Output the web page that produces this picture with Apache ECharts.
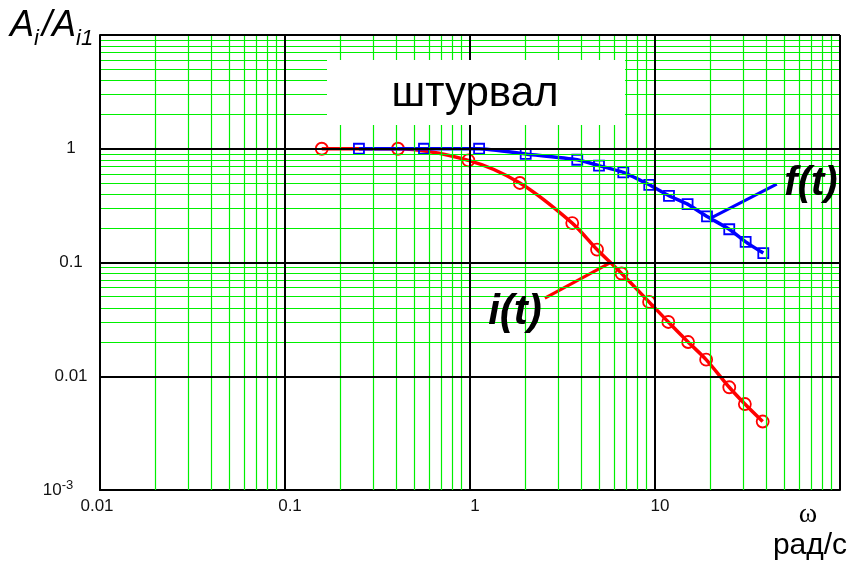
<!DOCTYPE html>
<html>
<head>
<meta charset="utf-8">
<script src="https://cdn.jsdelivr.net/npm/echarts@6/dist/echarts.min.js"></script>
<style>
  html, body { margin: 0; padding: 0; background: #fff; }
  #chart { width: 854px; height: 569px; }
</style>
</head>
<body>
<div id="chart"></div>
<script>
// Amplitude ratio vs. angular frequency (log-log), "штурвал" input
const iOmega = [0.158, 0.408, 0.98, 1.86, 3.57, 4.86, 6.6, 9.29, 11.8, 15.1, 18.9, 25.2, 30.6, 38.2];
const iAmp   = [1, 1, 0.79, 0.5, 0.222, 0.13, 0.08, 0.045, 0.03, 0.02, 0.014, 0.008, 0.0057, 0.004];
const fOmega = [0.251, 0.564, 1.12, 2.0, 3.8, 4.98, 6.74, 9.31, 11.9, 15.0, 19.1, 25.2, 30.9, 38.5];
const fAmp   = [1, 1, 1, 0.9, 0.8, 0.71, 0.62, 0.482, 0.386, 0.326, 0.254, 0.196, 0.152, 0.121];

// leader lines from the curve labels to the curves
const iLeaderX = [2.54, 5.71];
const iLeaderY = [0.0486, 0.0993];
const fLeaderX = [20.0, 45.5];
const fLeaderY = [0.2455, 0.489];

// axis decades and tick labels
const xDecades = [0.01, 0.1, 1, 10, 100];
const yDecades = [0.001, 0.01, 0.1, 1, 10];
const xTickValues = [0.01, 0.1, 1, 10];
const xTickText   = ['{l|0.01}', '0.1', '1', '10'];
const yTickValues = [0.001, 0.01, 0.1, 1];
const yTickText   = ['{b|10}{s|-3}', '0.01', '0.1', '1'];
const minorSteps  = [2, 3, 4, 5, 6, 7, 8, 9];

function pickLabel(v, values, texts) {
  for (let k = 0; k < values.length; k++) {
    if (Math.abs(Math.log10(v) - Math.log10(values[k])) < 1e-6) return texts[k];
  }
  return '';
}

// grid lines: green minor lines per decade, black decade lines on top
const gridLines = [];
const minorStyle = { color: '#00f000', width: 1.2, type: 'solid' };
const majorStyle = { color: '#000', width: 2, type: 'solid' };
xDecades.slice(0, -1).forEach(d => minorSteps.forEach(m => gridLines.push({ xAxis: m * d, lineStyle: minorStyle })));
yDecades.slice(0, -1).forEach(d => minorSteps.forEach(m => gridLines.push({ yAxis: m * d, lineStyle: minorStyle })));
xDecades.forEach(d => gridLines.push({ xAxis: d, lineStyle: majorStyle }));
yDecades.forEach(d => gridLines.push({ yAxis: d, lineStyle: majorStyle }));

const pairs = (xs, ys) => xs.map((x, k) => [x, ys[k]]);

const labelFont = 'Liberation Sans';

const chart = echarts.init(document.getElementById('chart'), null, { renderer: 'canvas' });
chart.setOption({
  animation: false,
  backgroundColor: '#fff',
  grid: { left: 100, top: 35, right: 14, bottom: 79, show: false },
  xAxis: {
    type: 'log', logBase: 10, min: 0.01, max: 100,
    axisLine: { show: true, lineStyle: { color: '#000', width: 2 } },
    axisTick: { show: false },
    splitLine: { show: false },
    minorTick: { show: false },
    axisLabel: {
      margin: 8, color: '#111', fontSize: 17, fontFamily: labelFont,
      padding: [0, 0, 0, 10],
      formatter: v => pickLabel(v, xTickValues, xTickText),
      rich: {
        l: { fontSize: 17, fontFamily: labelFont, color: '#111', padding: [0, 16, 0, 0] }
      }
    }
  },
  yAxis: {
    type: 'log', logBase: 10, min: 0.001, max: 10,
    axisLine: { show: true, lineStyle: { color: '#000', width: 2 } },
    axisTick: { show: false },
    splitLine: { show: false },
    minorTick: { show: false },
    axisLabel: {
      margin: 29, align: 'center', color: '#111', fontSize: 17, fontFamily: labelFont,
      formatter: v => pickLabel(v, yTickValues, yTickText),
      rich: {
        b: { fontSize: 17, fontFamily: labelFont, color: '#111' },
        s: { fontSize: 13, fontFamily: labelFont, color: '#111', padding: [0, 26, 10, 0] }
      }
    }
  },
  series: [
    {
      name: 'grid', type: 'line', data: [], z: 1, silent: true,
      markLine: { silent: true, symbol: ['none', 'none'], label: { show: false },
                  animation: false, data: gridLines }
    },
    {
      name: 'i(t)', type: 'line', z: 3,
      data: pairs(iOmega, iAmp),
      smooth: 0.3,
      lineStyle: { color: '#ff0000', width: 3.5 },
      symbol: 'circle', symbolSize: 12,
      itemStyle: { color: 'rgba(0,0,0,0)', borderColor: '#ff0000', borderWidth: 1.8 }
    },
    {
      name: 'f(t)', type: 'line', z: 4,
      data: pairs(fOmega, fAmp),
      smooth: 0.15,
      lineStyle: { color: '#0000ff', width: 3.5 },
      symbol: 'rect', symbolSize: 10,
      itemStyle: { color: 'rgba(0,0,0,0)', borderColor: '#0000ff', borderWidth: 1.8 }
    },
    {
      name: 'i-leader', type: 'line', z: 3, symbol: 'none', silent: true,
      data: pairs(iLeaderX, iLeaderY),
      lineStyle: { color: '#ff0000', width: 3 }
    },
    {
      name: 'f-leader', type: 'line', z: 4, symbol: 'none', silent: true,
      data: pairs(fLeaderX, fLeaderY),
      lineStyle: { color: '#0000ff', width: 3 }
    }
  ],
  graphic: [
    { type: 'rect', z: 50, shape: { x: 327, y: 60, width: 298, height: 65 }, style: { fill: '#fff' } },
    { type: 'text', z: 51, style: { x: 475, y: 94, text: 'штурвал', align: 'center', verticalAlign: 'middle',
        font: '42px "Liberation Sans"', fill: '#000' } },
    { type: 'text', z: 51, style: { x: 811, y: 184, text: 'f(t)', align: 'center', verticalAlign: 'middle',
        font: 'italic bold 40px "Liberation Sans"', fill: '#000' } },
    { type: 'text', z: 51, style: { x: 515, y: 312, text: 'i(t)', align: 'center', verticalAlign: 'middle',
        font: 'italic bold 42px "Liberation Sans"', fill: '#000' } },
    // vertical axis title A_i / A_i1
    { type: 'text', z: 51, style: { x: 10, y: 26, text: 'A', align: 'left', verticalAlign: 'middle',
        font: 'italic 36px "Liberation Sans"', fill: '#000' } },
    { type: 'text', z: 51, style: { x: 34, y: 39, text: 'i', align: 'left', verticalAlign: 'middle',
        font: 'italic 22px "Liberation Sans"', fill: '#000' } },
    { type: 'text', z: 51, style: { x: 42, y: 26, text: '/A', align: 'left', verticalAlign: 'middle',
        font: 'italic 36px "Liberation Sans"', fill: '#000' } },
    { type: 'text', z: 51, style: { x: 76, y: 39, text: 'i1', align: 'left', verticalAlign: 'middle',
        font: 'italic 22px "Liberation Sans"', fill: '#000' } },
    // horizontal axis title
    { type: 'text', z: 51, style: { x: 808, y: 515, text: 'ω', align: 'center', verticalAlign: 'middle',
        font: '28px "Liberation Serif"', fill: '#000' } },
    { type: 'text', z: 51, style: { x: 810, y: 546, text: 'рад/с', align: 'center', verticalAlign: 'middle',
        font: '30px "Liberation Sans"', fill: '#000' } }
  ]
});
</script>
</body>
</html>
